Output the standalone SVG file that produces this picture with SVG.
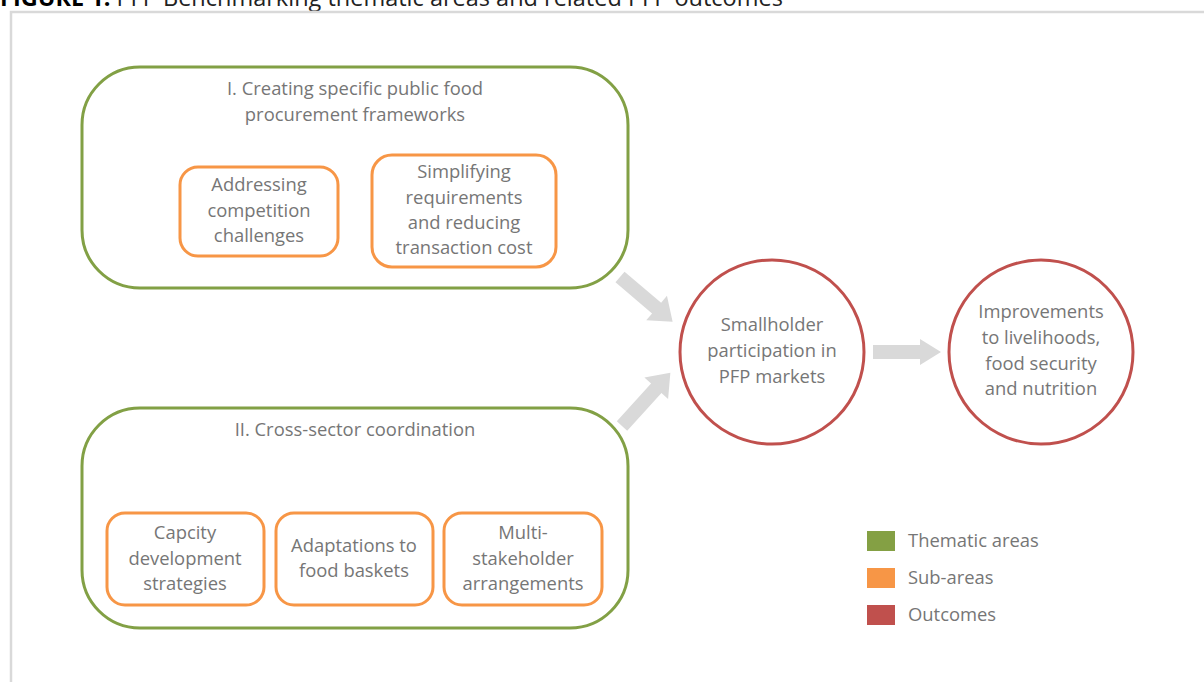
<svg xmlns="http://www.w3.org/2000/svg" width="1204" height="682" viewBox="0 0 1204 682">
<style>
text{font-family:"Open Sans","Liberation Sans",sans-serif;font-size:18.4px;fill:#767676;text-anchor:middle}
.theme{fill:none;stroke:#82a045;stroke-width:3}
.sub{fill:none;stroke:#f79646;stroke-width:3}
.out{fill:none;stroke:#c0504d;stroke-width:3}
.arr{fill:#d9d9d9}
.leg{text-anchor:start}
.title{font-size:23.5px;fill:#222;text-anchor:start}
</style>
<rect width="1204" height="682" fill="#fff"/>
<text class="title" x="0" y="6"><tspan font-weight="bold" fill="#000">FIGURE 1.</tspan> PFP Benchmarking thematic areas and related PFP outcomes</text>
<rect x="11" y="12" width="1220" height="700" fill="none" stroke="#d9d9d9" stroke-width="2.5"/>

<g id="theme1">
<rect class="theme" x="82" y="67" width="546" height="221" rx="58" ry="58"/>
<text x="355" y="95">I. Creating specific public food</text>
<text x="355" y="121">procurement frameworks</text>
</g>
<g id="sub1a">
<rect class="sub" x="180" y="167" width="158" height="89" rx="18" ry="18"/>
<text x="259" y="191">Addressing</text>
<text x="259" y="217">competition</text>
<text x="259" y="242">challenges</text>
</g>
<g id="sub1b">
<rect class="sub" x="372" y="155" width="184" height="112" rx="20" ry="20"/>
<text x="464" y="178">Simplifying</text>
<text x="464" y="204">requirements</text>
<text x="464" y="229">and reducing</text>
<text x="464" y="254">transaction cost</text>
</g>

<g id="theme2">
<rect class="theme" x="82" y="408" width="546" height="220" rx="58" ry="58"/>
<text x="355" y="436">II. Cross-sector coordination</text>
</g>
<g id="sub2a">
<rect class="sub" x="107" y="513" width="157" height="92" rx="18" ry="18"/>
<text x="185" y="539">Capcity</text>
<text x="185" y="565">development</text>
<text x="185" y="590">strategies</text>
</g>
<g id="sub2b">
<rect class="sub" x="276" y="513" width="157" height="92" rx="18" ry="18"/>
<text x="354" y="552">Adaptations to</text>
<text x="354" y="577">food baskets</text>
</g>
<g id="sub2c">
<rect class="sub" x="444" y="513" width="158" height="92" rx="18" ry="18"/>
<text x="523" y="539">Multi-</text>
<text x="523" y="565">stakeholder</text>
<text x="523" y="590">arrangements</text>
</g>

<g id="outcome1">
<circle class="out" cx="772" cy="352" r="92"/>
<text x="772" y="331">Smallholder</text>
<text x="772" y="357">participation in</text>
<text x="772" y="383">PFP markets</text>
</g>
<g id="outcome2">
<circle class="out" cx="1041" cy="352" r="92"/>
<text x="1041" y="318">Improvements</text>
<text x="1041" y="344">to livelihoods,</text>
<text x="1041" y="370">food security</text>
<text x="1041" y="395">and nutrition</text>
</g>

<g id="connectors">
<polygon class="arr" transform="translate(620,277) rotate(40.3)" points="0,-7 48,-7 48,-16 69,0 48,16 48,7 0,7"/>
<polygon class="arr" transform="translate(622,426) rotate(-47.8)" points="0,-7 51,-7 51,-16 72,0 51,16 51,7 0,7"/>
<polygon class="arr" transform="translate(873,352)" points="0,-7 47,-7 47,-13 68,0 47,13 47,7 0,7"/>
</g>

<g id="legend">
<rect x="867" y="531" width="28" height="20" fill="#84a044"/>
<text class="leg" x="908" y="547">Thematic areas</text>
<rect x="867" y="568" width="28" height="20" fill="#f79646"/>
<text class="leg" x="908" y="584">Sub-areas</text>
<rect x="867" y="605" width="28" height="20" fill="#c0504d"/>
<text class="leg" x="908" y="621">Outcomes</text>
</g>
</svg>
